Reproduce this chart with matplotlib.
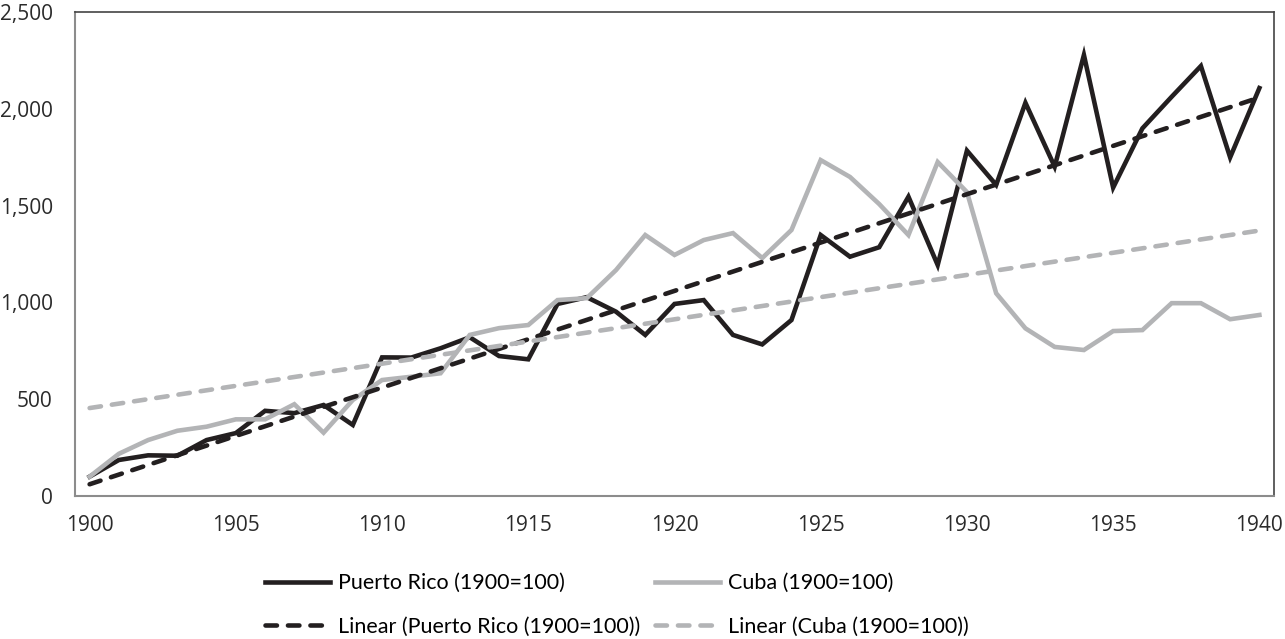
import matplotlib.pyplot as plt
import numpy as np

# Index values, 1900 = 100
years = list(range(1900, 1941))
puerto_rico = [100, 186, 210, 208, 289, 325, 440, 428, 470, 367,
               716, 715, 763, 820, 723, 706, 992, 1027, 952, 832,
               992, 1012, 832, 783, 909, 1348, 1236, 1285, 1546, 1193,
               1784, 1607, 2031, 1701, 2278, 1593, 1899, 2062, 2221, 1749,
               2107]
cuba = [100, 218, 289, 337, 358, 396, 396, 474, 327, 496,
        599, 616, 634, 832, 867, 883, 1012, 1022, 1167, 1348,
        1245, 1322, 1358, 1229, 1374, 1735, 1648, 1508, 1348, 1725,
        1570, 1047, 866, 770, 754, 852, 857, 996, 996, 913,
        935]

labels = ['Puerto Rico (1900=100)', 'Cuba (1900=100)',
          'Linear (Puerto Rico (1900=100))', 'Linear (Cuba (1900=100))']

black = '#231f20'
grey = '#b3b4b6'

# Excel-style linear trendlines
x = np.arange(len(years))
pr_fit = np.polyval(np.polyfit(x, puerto_rico, 1), x)
cu_fit = np.polyval(np.polyfit(x, cuba, 1), x)

fig = plt.figure(figsize=(12.85, 6.39), dpi=100)
ax = fig.add_axes([75/1285, 1 - 496/639, 1199/1285, 484/639])

lw = 3.3
l1, = ax.plot(x, puerto_rico, color=black, lw=lw, solid_joinstyle='miter')
l2, = ax.plot(x, cuba, color=grey, lw=lw, solid_joinstyle='miter')
l3, = ax.plot(x, pr_fit, color=black, lw=lw, dashes=(2.5, 2.4),
              dash_capstyle='round')
l4, = ax.plot(x, cu_fit, color=grey, lw=lw, dashes=(2.5, 2.4),
              dash_capstyle='round')

ax.set_xlim(-0.5, len(years) - 0.5)
ax.set_ylim(0, 2500)
ax.set_xticks(x[::5])
ax.set_xticklabels([str(y) for y in years[::5]])
ax.set_yticks(range(0, 2501, 500))
ax.set_yticklabels([f'{v:,}' for v in range(0, 2501, 500)])
ax.tick_params(length=0, labelsize=15, colors='#2b2b2b')
ax.tick_params(axis='y', pad=16)
ax.tick_params(axis='x', pad=14)
for t in ax.get_xticklabels() + ax.get_yticklabels():
    t.set_fontfamily('Open Sans')
for side in ['left', 'bottom']:
    ax.spines[side].set_color('#8c8c8c')
    ax.spines[side].set_linewidth(1.5)
for side in ['top', 'right']:
    ax.spines[side].set_color('#444444')
    ax.spines[side].set_linewidth(1.2)

fig.legend([l1, l3, l2, l4], [labels[0], labels[2], labels[1], labels[3]],
           ncol=2, loc='center', bbox_to_anchor=(617/1285, 1 - 605/639),
           frameon=False, handlelength=3.0, handletextpad=0.37,
           columnspacing=0.7, labelspacing=1.1, borderpad=0,
           prop={'family': 'Lato', 'size': 15.5})

fig.savefig('out.png', dpi=100)
